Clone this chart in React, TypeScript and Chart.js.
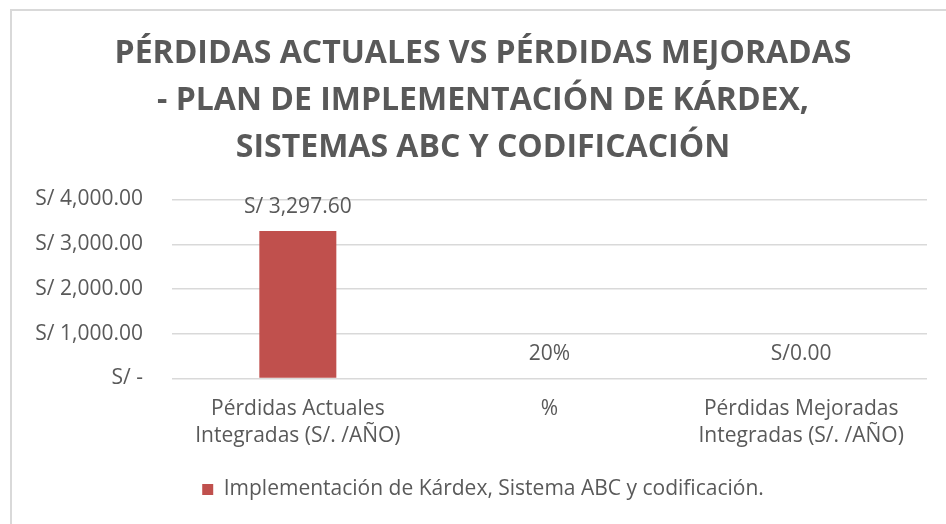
import React, { useEffect, useRef } from "react";
import { Chart, registerables } from "chart.js";

Chart.register(...registerables);

const titleLines = [
  "PÉRDIDAS ACTUALES VS PÉRDIDAS MEJORADAS",
  "- PLAN DE IMPLEMENTACIÓN DE KÁRDEX,",
  "SISTEMAS ABC Y CODIFICACIÓN",
];
const categories = [
  ["Pérdidas Actuales", "Integradas (S/. /AÑO)"],
  ["%"],
  ["Pérdidas Mejoradas", "Integradas (S/. /AÑO)"],
];
const seriesName = "Implementación de Kárdex, Sistema ABC y codificación.";
const seriesValues = [3297.6, 0.2, 0];
const valueLabels = ["S/ 3,297.60", "20%", "S/0.00"];
const yTicks = [0, 1000, 2000, 3000, 4000];
const yTickLabels = ["S/ -", "S/ 1,000.00", "S/ 2,000.00", "S/ 3,000.00", "S/ 4,000.00"];

const TEXT = "#595959";
const BAR = "#C0504D";
const FONT = "'Open Sans', 'Noto Sans', sans-serif";
const BODY = 21;

const framePlugin = {
  id: "frame",
  beforeDraw(chart: any) {
    const ctx = chart.ctx;
    ctx.save();
    ctx.fillStyle = "#ffffff";
    ctx.fillRect(0, 0, chart.width, chart.height);
    ctx.fillStyle = "#d9d9d9";
    ctx.fillRect(0, 0, 2, chart.height);
    ctx.fillRect(0, 0, chart.width, 2);
    ctx.restore();
  },
};

const valueLabelPlugin = {
  id: "valueLabels",
  afterDatasetsDraw(chart: any) {
    const ctx = chart.ctx;
    const meta = chart.getDatasetMeta(0);
    ctx.save();
    ctx.fillStyle = TEXT;
    ctx.font = `${BODY}px ${FONT}`;
    ctx.textAlign = "center";
    ctx.textBaseline = "middle";
    meta.data.forEach((el: any, i: number) => {
      const top = Math.min(el.y, el.base);
      ctx.fillText(valueLabels[i], el.x, top - 24);
    });
    ctx.restore();
  },
};

export default function App() {
  const ref = useRef<HTMLCanvasElement>(null);
  useEffect(() => {
    const chart = new Chart(ref.current as HTMLCanvasElement, {
      type: "bar",
      data: {
        labels: categories,
        datasets: [
          {
            label: seriesName,
            data: seriesValues,
            backgroundColor: (c: any) => {
              const y = c.chart.scales && c.chart.scales.y;
              if (y && typeof c.raw === "number") {
                const h = Math.abs(y.getPixelForValue(0) - y.getPixelForValue(c.raw));
                if (h < 0.5) return "rgba(0,0,0,0)";
              }
              return BAR;
            },
            borderWidth: 0,
            categoryPercentage: 1,
            barPercentage: 0.306,
          },
        ],
      },
      options: {
        animation: false,
        responsive: false,
        devicePixelRatio: 1,
        layout: { padding: { left: 0, right: 0, top: 0, bottom: 14 } },
        plugins: {
          title: {
            display: true,
            text: titleLines,
            color: TEXT,
            font: { family: FONT, size: 32, weight: "bold", lineHeight: 47 / 32 },
            padding: { top: 21.5, bottom: 28 },
          },
          legend: {
            display: true,
            position: "bottom",
            labels: {
              color: TEXT,
              font: { family: FONT, size: BODY },
              boxWidth: 11,
              boxHeight: 11,
              padding: 10,
              generateLabels: () => [
                {
                  text: seriesName,
                  fillStyle: BAR,
                  strokeStyle: BAR,
                  lineWidth: 0,
                  hidden: false,
                  datasetIndex: 0,
                  fontColor: TEXT,
                },
              ],
            },
          },
          tooltip: { enabled: false },
        },
        scales: {
          x: {
            grid: { display: false, drawTicks: false },
            border: { display: false },
            ticks: {
              color: TEXT,
              font: { family: FONT, size: BODY, lineHeight: 27 / BODY },
              padding: 17,
              maxRotation: 0,
              autoSkip: false,
            },
            afterFit(scale: any) {
              scale.height = 90.5;
            },
          },
          y: {
            min: 0,
            max: 4000,
            afterBuildTicks(scale: any) {
              scale.ticks = yTicks.map((v) => ({ value: v }));
            },
            grid: { color: "#d9d9d9", lineWidth: 1.5, drawTicks: false },
            border: { display: false },
            ticks: {
              color: TEXT,
              font: { family: FONT, size: BODY },
              padding: 29,
              callback: (v: any) => {
                const i = yTicks.indexOf(Number(v));
                return i >= 0 ? yTickLabels[i] : "";
              },
            },
            afterFit(scale: any) {
              scale.width = 162;
            },
          },
          yRight: {
            position: "right",
            display: true,
            min: 0,
            max: 4000,
            grid: { display: false, drawTicks: false },
            border: { display: false },
            ticks: { display: false },
            afterFit(scale: any) {
              scale.width = 29;
            },
          },
        },
      },
      plugins: [framePlugin, valueLabelPlugin],
    });
    return () => chart.destroy();
  }, []);
  return (
    <div style={{ position: "fixed", left: 0, top: 0, width: 946, height: 524, overflow: "hidden", background: "#fff" }}>
      <div style={{ position: "absolute", left: 10, top: 9 }}>
        <canvas ref={ref} width={946} height={515} style={{ display: "block" }} />
      </div>
    </div>
  );
}
